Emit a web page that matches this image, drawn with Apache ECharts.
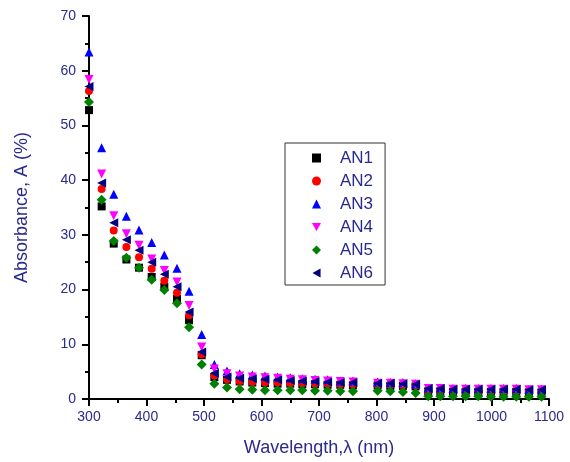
<!DOCTYPE html>
<html>
<head>
<meta charset="utf-8">
<script src="https://cdn.jsdelivr.net/npm/echarts@6/dist/echarts.min.js"></script>
<style>
  html, body { margin: 0; padding: 0; background: #fff; }
  #chart { width: 570px; height: 462px; }
</style>
</head>
<body>
<div id="chart"></div>
<script>
// Wavelength sampling (nm); there is no reading near 780 nm
const wavelengths = [300, 322, 343, 365, 387, 409, 431, 453, 474, 496, 518, 540, 562, 584, 606, 628, 650, 671, 693, 715, 737, 759,
  802, 824, 846, 868, 890, 911, 933, 955, 977, 999, 1021, 1043, 1065, 1087];

// Absorbance (%) of each sample
const an1 = [52.8, 35.2, 28.4, 25.5, 24.0, 22.3, 20.5, 18.3, 14.4, 8.0, 4.0, 3.5, 3.2, 3.0, 2.9, 2.8, 2.8, 2.7, 2.7, 2.6, 2.6, 2.5,
  2.5, 2.4, 2.4, 2.3, 1.4, 1.4, 1.3, 1.3, 1.3, 1.3, 1.3, 1.3, 1.2, 1.2];
const an2 = [56.3, 38.4, 30.8, 27.8, 25.9, 23.8, 21.6, 19.4, 15.3, 8.2, 4.3, 3.6, 3.3, 3.1, 3.0, 3.0, 2.9, 2.9, 2.8, 2.8, 2.7, 2.7,
  2.6, 2.6, 2.5, 2.5, 1.5, 1.5, 1.5, 1.5, 1.4, 1.4, 1.4, 1.4, 1.4, 1.4];
const an3 = [63.4, 45.9, 37.4, 33.4, 30.9, 28.6, 26.3, 23.9, 19.7, 11.8, 6.3, 5.1, 4.6, 4.4, 4.2, 4.0, 3.9, 3.7, 3.6, 3.5, 3.3, 3.3,
  3.1, 3.0, 3.0, 2.8, 2.0, 2.0, 1.9, 1.9, 1.9, 1.9, 1.9, 1.9, 1.8, 1.8];
const an4 = [58.4, 41.1, 33.5, 30.2, 28.1, 25.6, 23.5, 21.4, 17.1, 9.5, 5.5, 4.6, 4.2, 4.0, 3.9, 3.8, 3.6, 3.5, 3.4, 3.3, 3.2, 3.1,
  2.9, 2.9, 2.8, 2.7, 1.9, 1.9, 1.8, 1.8, 1.8, 1.8, 1.8, 1.8, 1.7, 1.7];
const an5 = [54.3, 36.4, 28.9, 25.8, 24.0, 21.8, 19.9, 17.5, 13.1, 6.3, 2.8, 2.1, 1.8, 1.7, 1.6, 1.6, 1.6, 1.6, 1.5, 1.5, 1.4, 1.4,
  1.5, 1.4, 1.3, 1.1, 0.5, 0.5, 0.5, 0.5, 0.5, 0.4, 0.4, 0.4, 0.4, 0.4];
const an6 = [57.1, 39.5, 32.2, 29.1, 27.2, 25.0, 22.8, 20.5, 15.9, 8.6, 4.7, 4.0, 3.8, 3.7, 3.6, 3.5, 3.4, 3.3, 3.2, 3.1, 3.0, 3.0,
  2.9, 2.9, 2.8, 2.7, 1.9, 1.9, 1.8, 1.8, 1.8, 1.8, 1.8, 1.8, 1.7, 1.7];

const seriesNames = ['AN1', 'AN2', 'AN3', 'AN4', 'AN5', 'AN6'];
const seriesValues = [an1, an2, an3, an4, an5, an6];

const xTicks = { min: 300, max: 1100, interval: 100 };
const yTicks = { min: 0, max: 70, interval: 10 };

// Marker shapes: square, circle, up/down/left triangles and diamond
const TRI_DOWN = 'path://M0,0 L10,0 L5,9 Z';
const TRI_LEFT = 'path://M0,5 L9,0 L9,10 Z';
const styles = [
  { color: '#000000', symbol: 'rect', size: 8 },
  { color: '#ff0000', symbol: 'circle', size: 8 },
  { color: '#0000ff', symbol: 'triangle', size: 9 },
  { color: '#ff00ff', symbol: TRI_DOWN, size: 9 },
  { color: '#008000', symbol: 'diamond', size: 10 },
  { color: '#000080', symbol: TRI_LEFT, size: 9 }
];

const textColor = '#2a2a8e';
const fontFamily = 'Arial, "Liberation Sans", sans-serif';

const series = seriesNames.map((name, i) => ({
  name: name,
  type: 'scatter',
  symbol: styles[i].symbol,
  symbolSize: styles[i].size,
  itemStyle: { color: styles[i].color, opacity: 1 },
  data: wavelengths.map((w, k) => [w, seriesValues[i][k]])
}));

const chart = echarts.init(document.getElementById('chart'), null, { renderer: 'canvas' });
chart.setOption({
  animation: false,
  backgroundColor: '#ffffff',
  grid: { left: 89, right: 21, top: 16, bottom: 63 },
  legend: {
    orient: 'vertical',
    left: 285,
    top: 143,
    padding: [6, 12, 3, 27],
    itemGap: 5,
    itemWidth: 9,
    itemHeight: 9,
    borderColor: '#333',
    borderWidth: 1,
    textStyle: { color: textColor, fontSize: 17, lineHeight: 18, fontFamily: fontFamily, padding: [0, 0, 0, 14] },
    data: seriesNames.map((n, i) => ({ name: n, icon: styles[i].symbol, itemStyle: { color: styles[i].color, opacity: 1 } }))
  },
  xAxis: {
    type: 'value',
    min: xTicks.min, max: xTicks.max, interval: xTicks.interval,
    name: 'Wavelength,\u03bb (nm)',
    nameLocation: 'middle',
    nameGap: 40,
    nameTextStyle: { color: textColor, fontSize: 18, fontFamily: fontFamily },
    axisLine: { onZero: false, lineStyle: { color: '#000', width: 2 } },
    axisTick: { inside: false, length: 7, lineStyle: { color: '#000', width: 2 } },
    minorTick: { show: true, splitNumber: 2, length: 4, lineStyle: { color: '#000', width: 2 } },
    axisLabel: { color: textColor, fontSize: 14, fontFamily: fontFamily, margin: 11, formatter: v => String(v) },
    splitLine: { show: false }
  },
  yAxis: {
    type: 'value',
    min: yTicks.min, max: yTicks.max, interval: yTicks.interval,
    name: 'Absorbance, A (%)',
    nameLocation: 'middle',
    nameGap: 58,
    nameTextStyle: { color: textColor, fontSize: 18, fontFamily: fontFamily },
    axisLine: { show: true, onZero: false, lineStyle: { color: '#000', width: 2 } },
    axisTick: { show: true, inside: false, length: 7, lineStyle: { color: '#000', width: 2 } },
    minorTick: { show: true, splitNumber: 2, length: 4, lineStyle: { color: '#000', width: 2 } },
    axisLabel: { color: textColor, fontSize: 14, fontFamily: fontFamily, margin: 13, formatter: v => String(v) },
    splitLine: { show: false }
  },
  series: series
});
</script>
</body>
</html>
